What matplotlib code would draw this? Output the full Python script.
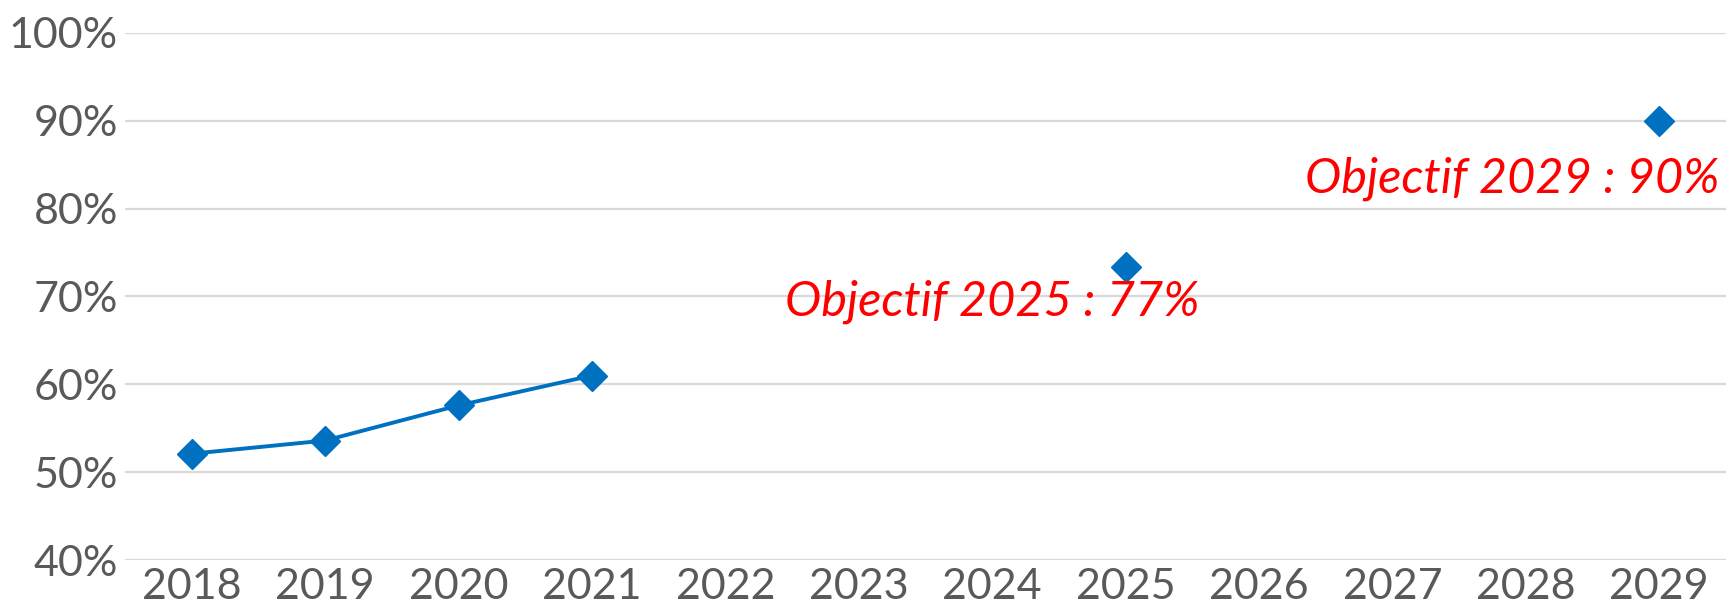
import matplotlib.pyplot as plt
import numpy as np

years = ['2018', '2019', '2020', '2021', '2022', '2023',
         '2024', '2025', '2026', '2027', '2028', '2029']
observed_years = ['2018', '2019', '2020', '2021']
observed = [52.1, 53.6, 57.6, 61.0]
target_years = ['2025', '2029']
targets = [73.4, 90]
target_labels = ['Objectif 2025 : 77%', 'Objectif 2029 : 90%']
y_ticks = [40, 50, 60, 70, 80, 90, 100]

blue = '#0070C0'
grey = '#595959'

plt.rcParams['font.family'] = ['Lato', 'DejaVu Sans']

fig = plt.figure(figsize=(17.32, 6.07), dpi=100)
ax = fig.add_axes([125 / 1732, 1 - 560 / 607, 1601 / 1732, 527 / 607])

x = np.arange(len(years))
pos = {y: i for i, y in enumerate(years)}

ax.plot([pos[y] for y in observed_years], observed, color=blue, lw=2.8,
        marker='D', ms=15, zorder=3)
ax.plot([pos[y] for y in target_years], targets, ls='none', color=blue,
        marker='D', ms=15, zorder=3)

# labels for the targets
ax.text(pos['2024'], 69.4, target_labels[0], color='#FF0000', fontsize=35,
        style='italic', ha='center', va='center')
ax.text(pos['2029'] + 0.45, 83.4, target_labels[1], color='#FF0000', fontsize=35,
        style='italic', ha='right', va='center')

ax.set_xlim(-0.5, len(years) - 0.5)
ax.set_ylim(40, 100)
ax.set_xticks(x)
ax.set_xticklabels(years)
ax.set_yticks(y_ticks)
ax.set_yticklabels([f'{v}%' for v in y_ticks])
ax.tick_params(axis='both', length=0, labelsize=31, colors=grey)
ax.tick_params(axis='y', pad=5)
ax.tick_params(axis='x', pad=6)
ax.grid(axis='y', color='#D9D9D9', lw=1.6)
ax.set_axisbelow(True)
for s in ax.spines.values():
    s.set_visible(False)

fig.savefig('out.png', dpi=100)
